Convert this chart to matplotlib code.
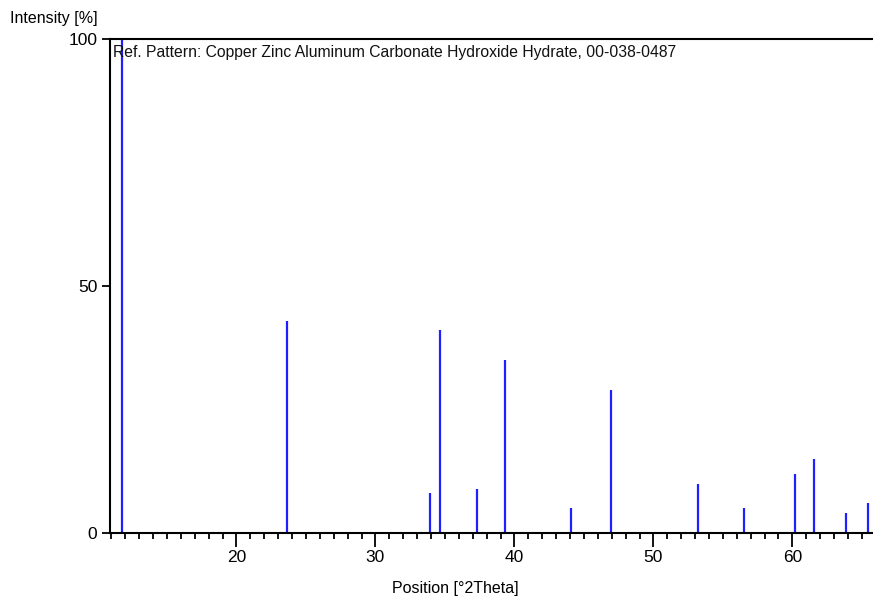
import matplotlib.pyplot as plt
from matplotlib.ticker import MultipleLocator

plt.rcParams['font.family'] = ['Liberation Sans Narrow', 'Liberation Sans', 'DejaVu Sans']

# Reference pattern peaks: position (deg 2-theta) and relative intensity (%)
positions = [11.73, 23.62, 33.90, 34.65, 37.34, 39.30, 44.07, 46.93,
             53.19, 56.52, 60.17, 61.53, 63.88, 65.47]
intensities = [100, 43, 8, 41, 9, 35, 5, 29, 10, 5, 12, 15, 4, 6]

pattern_name = "Ref. Pattern: Copper Zinc Aluminum Carbonate Hydroxide Hydrate, 00-038-0487"

fig = plt.figure(figsize=(8.73, 6.03), dpi=100)
ax = fig.add_axes([110 / 873, 70 / 603, 763 / 873, 494 / 603])

ax.vlines(positions, 0, intensities, colors='#1f1fff', linewidth=1.6)

ax.set_xlim(10.9, 65.8)
ax.set_ylim(0, 100)

ax.xaxis.set_major_locator(MultipleLocator(10))
ax.xaxis.set_minor_locator(MultipleLocator(1))
ax.set_yticks([0, 50, 100])

ax.tick_params(axis='x', which='major', length=10, width=1.3, direction='out',
               labelsize=12.5, pad=2)
ax.tick_params(axis='x', which='minor', length=4, width=1.3, direction='out')
ax.tick_params(axis='y', which='major', length=6, width=1.3, direction='out',
               labelsize=12.5, pad=3)

for side in ['left', 'top', 'bottom']:
    ax.spines[side].set_linewidth(1.5)
ax.spines['right'].set_visible(False)

ax.text(0.004, 0.972, pattern_name, transform=ax.transAxes, ha='left', va='center',
        fontsize=11.3, color='#111111')

fig.text(10 / 873, 1 - 18 / 603, "Intensity [%]", ha='left', va='center', fontsize=11.5)
fig.text(455 / 873, 1 - 588 / 603, "Position [°2Theta]", ha='center', va='center',
         fontsize=11.5)

fig.savefig('out.png', dpi=100)
